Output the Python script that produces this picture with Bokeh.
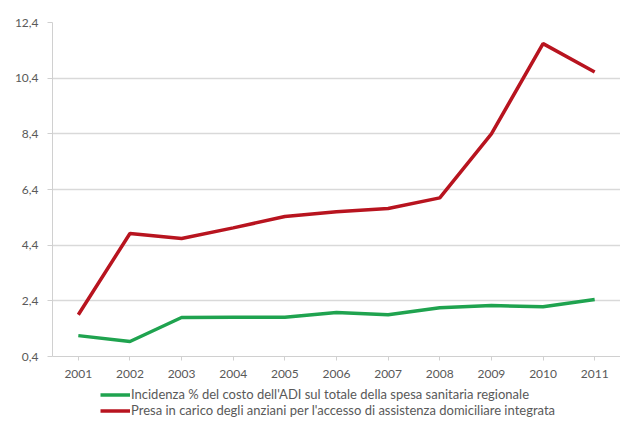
from bokeh.plotting import figure
from bokeh.layouts import column
from bokeh.models import Legend, LegendItem, FixedTicker, Range1d, FactorRange
from bokeh.embed import file_html
from bokeh.resources import INLINE

years = ["2001", "2002", "2003", "2004", "2005", "2006", "2007", "2008", "2009", "2010", "2011"]
incidenza_adi = [1.15, 0.94, 1.80, 1.81, 1.81, 1.98, 1.90, 2.15, 2.23, 2.19, 2.45]
presa_in_carico = [1.90, 4.82, 4.64, 5.02, 5.43, 5.60, 5.72, 6.10, 8.40, 11.64, 10.62]
y_ticks = [0.4, 2.4, 4.4, 6.4, 8.4, 10.4, 12.4]
y_tick_labels = ["0,4", "2,4", "4,4", "6,4", "8,4", "10,4", "12,4"]
series_names = [
    "Incidenza % del costo dell'ADI sul totale della spesa sanitaria regionale",
    "Presa in carico degli anziani per l'accesso di assistenza domiciliare integrata",
]

FONT = "Lato"
GREY = "#595959"
GREEN = "#1fa34f"
RED = "#b8141f"

p = figure(
    width=620, height=386,
    x_range=FactorRange(*years, range_padding=0),
    y_range=Range1d(0.4, 12.4),
    output_backend="svg", toolbar_location=None,
    min_border_left=52, min_border_right=0, min_border_top=22, min_border_bottom=30,
)
p.outline_line_color = None
p.background_fill_color = "white"
p.border_fill_color = "white"

p.xgrid.grid_line_color = None
p.ygrid.grid_line_color = "#d9d9d9"
p.ygrid.grid_line_width = 1.5

p.yaxis.ticker = FixedTicker(ticks=y_ticks)
p.yaxis.major_label_overrides = dict(zip(y_ticks, y_tick_labels))
p.yaxis.axis_line_color = "#d0d0d0"
p.yaxis.major_tick_line_color = "#d0d0d0"
p.yaxis.major_tick_out = 5
p.yaxis.major_tick_in = 0
p.yaxis.minor_tick_line_color = None
p.yaxis.major_label_text_font = FONT
p.yaxis.major_label_text_font_size = "12px"
p.yaxis.major_label_text_color = GREY
p.yaxis.major_label_standoff = 9

p.xaxis.axis_line_color = "#d0d0d0"
p.xaxis.major_tick_line_color = "#d0d0d0"
p.xaxis.major_tick_out = 4
p.xaxis.major_tick_in = 0
p.xaxis.major_label_text_font = FONT
p.xaxis.major_label_text_font_size = "12px"
p.xaxis.major_label_text_color = GREY
p.xaxis.major_label_standoff = 9

p.line(years, incidenza_adi, line_color=GREEN, line_width=3.5)
p.line(years, presa_in_carico, line_color=RED, line_width=3.5)

# legend strip below the chart (its sample lines lie outside the visible range)
q = figure(
    width=620, height=32, x_range=Range1d(0, 1), y_range=Range1d(0, 1),
    x_axis_type=None, y_axis_type=None,
    output_backend="svg", toolbar_location=None,
    min_border_left=0, min_border_right=0, min_border_top=0, min_border_bottom=0,
)
q.outline_line_color = None
q.xgrid.grid_line_color = None
q.ygrid.grid_line_color = None
lg = q.line([5, 6], [5, 6], line_color=GREEN, line_width=3.5)
lr = q.line([5, 6], [5, 6], line_color=RED, line_width=3.5)

legend = Legend(
    items=[LegendItem(label=series_names[0], renderers=[lg]),
           LegendItem(label=series_names[1], renderers=[lr])],
    location=(48, 0), orientation="vertical",
    padding=0, margin=0, spacing=0,
    glyph_width=30, glyph_height=15, label_height=15,
    label_standoff=1,
    label_text_font=FONT, label_text_font_size="13px", label_text_color=GREY,
    background_fill_alpha=0, border_line_color=None,
)
q.add_layout(legend, "center")

open("out.html", "w").write(file_html(column(p, q, spacing=0), INLINE))
